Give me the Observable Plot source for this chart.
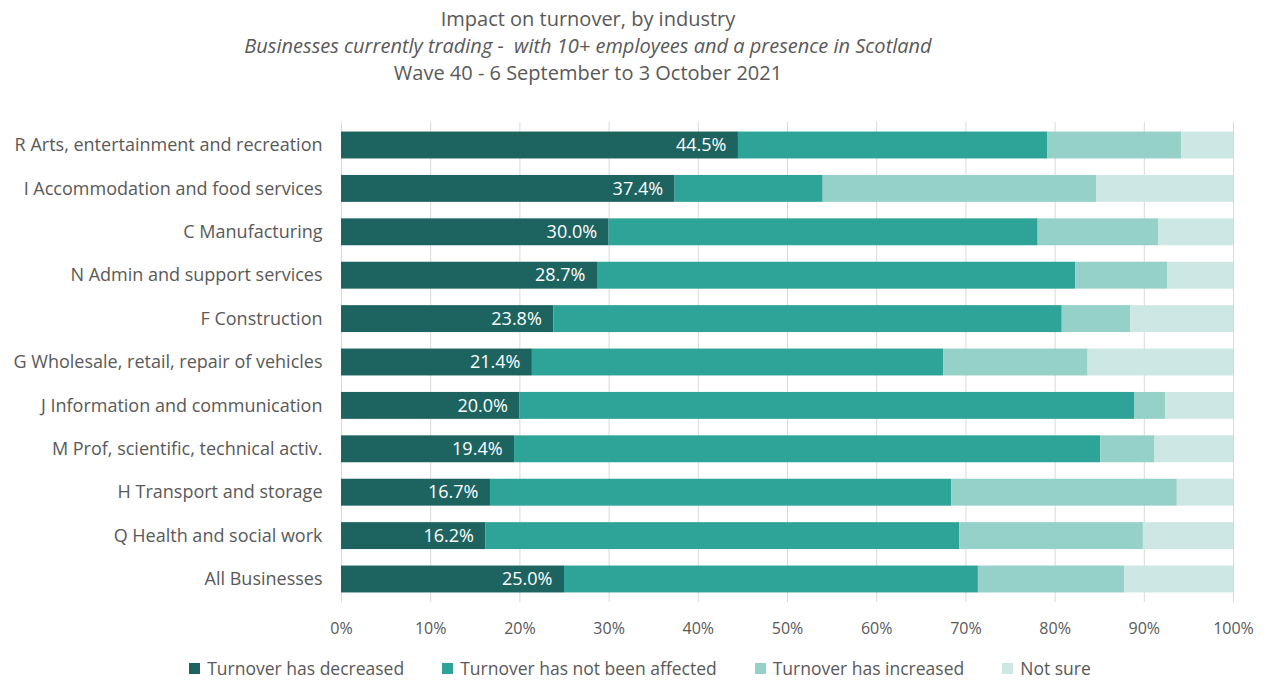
<!DOCTYPE html>
<html>
<head>
<meta charset="utf-8">
<script src="https://cdn.jsdelivr.net/npm/d3@7"></script>
<script src="https://cdn.jsdelivr.net/npm/@observablehq/plot@0.6"></script>
<style>
  body { margin: 0; background: #fff; font-family: "Open Sans", sans-serif; }
  #title { width: 1176px; text-align: center; color: #595959; font-size: 20px; line-height: 27px; padding-top: 5px; height: 100px; box-sizing: border-box; }
  #title .sub { font-style: italic; }
  #legend { display: flex; justify-content: center; gap: 38px; width: 1280px; color: #595959; font-size: 17.5px; line-height: 24px; margin-top: 16px; }
  #legend .item { display: flex; align-items: center; }
  #legend .sw { width: 11px; height: 11px; margin-right: 7px; display: inline-block; }
</style>
</head>
<body>
<div id="title">
  <div>Impact on turnover, by industry</div>
  <div class="sub">Businesses currently trading -&nbsp; with 10+ employees and a presence in Scotland</div>
  <div>Wave 40 - 6 September to 3 October 2021</div>
</div>
<div id="chart"></div>
<div id="legend"></div>
<script>
const categories = [
  "R Arts, entertainment and recreation",
  "I Accommodation and food services",
  "C Manufacturing",
  "N Admin and support services",
  "F Construction",
  "G Wholesale, retail, repair of vehicles",
  "J Information and communication",
  "M Prof, scientific, technical activ.",
  "H Transport and storage",
  "Q Health and social work",
  "All Businesses"
];
const seriesNames = ["Turnover has decreased", "Turnover has not been affected", "Turnover has increased", "Not sure"];
const decreased   = [44.5, 37.4, 30.0, 28.7, 23.8, 21.4, 20.0, 19.4, 16.7, 16.2, 25.0];
const notAffected = [34.7, 16.6, 48.1, 53.6, 57.0, 46.1, 68.9, 65.7, 51.7, 53.1, 46.4];
const increased   = [15.0, 30.7, 13.5, 10.3,  7.7, 16.2,  3.5,  6.1, 25.3, 20.6, 16.4];
const notSure     = [ 5.8, 15.3,  8.4,  7.4, 11.5, 16.3,  7.6,  8.8,  6.3, 10.1, 12.2];
const xTicks = [0, 10, 20, 30, 40, 50, 60, 70, 80, 90, 100];
const colors = ["#1d6461", "#2ea398", "#96d1c9", "#cde8e4"];

const seriesValues = [decreased, notAffected, increased, notSure];
const rows = [];
categories.forEach((c, i) => {
  seriesNames.forEach((s, j) => rows.push({category: c, series: s, value: seriesValues[j][i]}));
});
const labels = categories.map((c, i) => ({category: c, value: decreased[i]}));

const chart = Plot.plot({
  width: 1266,
  height: 540,
  marginLeft: 341,
  marginRight: 33,
  marginTop: 22,
  marginBottom: 38,
  style: {fontFamily: "'Open Sans', sans-serif", fontSize: "18px", color: "#595959", background: "#fff"},
  x: {domain: [0, 100], ticks: xTicks, tickFormat: d => d + "%", tickSize: 0, tickPadding: 20, label: null},
  y: {domain: categories, round: false, paddingInner: 0.38, paddingOuter: 0.22, tickSize: 0, tickPadding: 19, label: null},
  color: {domain: seriesNames, range: colors},
  marks: [
    Plot.ruleX(xTicks, {stroke: "#d9d9d9", strokeWidth: 1}),
    Plot.barX(rows, Plot.stackX({x: "value", y: "category", fill: "series", order: seriesNames})),
    Plot.text(labels, {x: "value", y: "category", text: d => d.value.toFixed(1) + "%", textAnchor: "end", dx: -12, fill: "white", fontSize: 18})
  ]
});
chart.querySelectorAll('[aria-label="x-axis tick label"] text').forEach(t => { t.setAttribute("font-size", "16px"); });
document.getElementById("chart").appendChild(chart);

const legend = document.getElementById("legend");
seriesNames.forEach((s, j) => {
  const it = document.createElement("div");
  it.className = "item";
  it.innerHTML = `<span class="sw" style="background:${colors[j]}"></span><span>${s}</span>`;
  legend.appendChild(it);
});
</script>
</body>
</html>
